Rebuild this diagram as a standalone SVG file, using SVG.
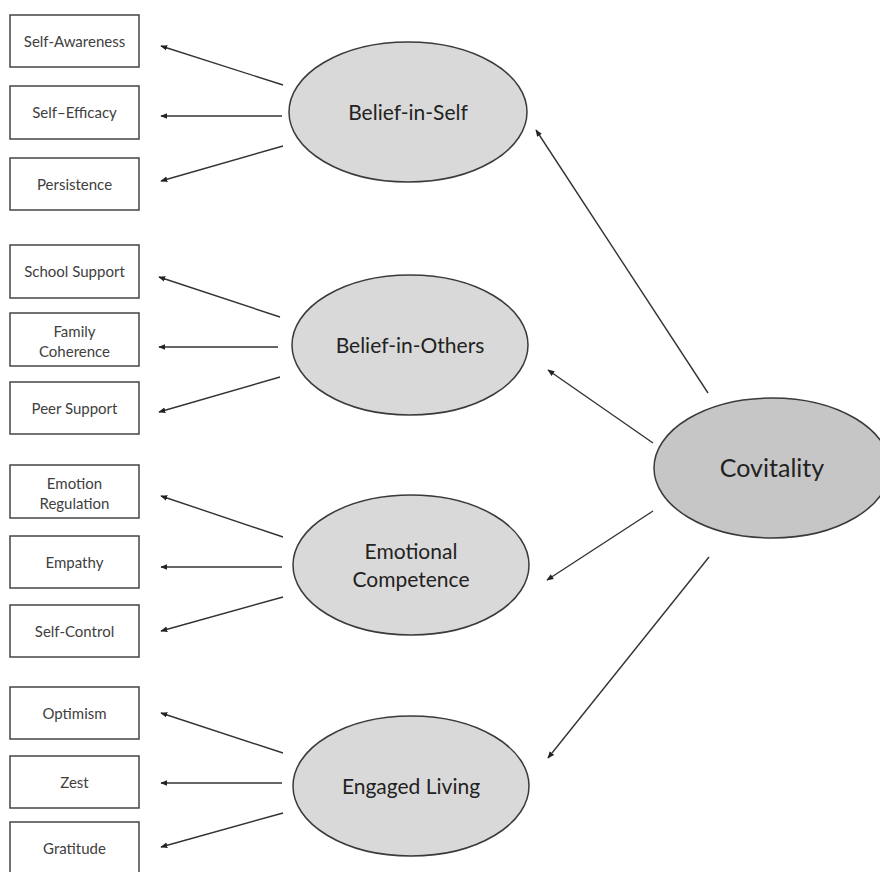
<svg xmlns="http://www.w3.org/2000/svg" width="880" height="872" viewBox="0 0 880 872">
  <style>
    .box { fill: #ffffff; stroke: #444444; stroke-width: 1.5; }
    .latent { fill: #d9d9d9; stroke: #3a3a3a; stroke-width: 1.5; }
    .core { fill: #c6c6c6; stroke: #3a3a3a; stroke-width: 1.5; }
    .lbl { font-family: Lato, "Open Sans", "Liberation Sans", sans-serif; font-size: 15px; fill: #404040; text-anchor: middle; }
    .big { font-family: Lato, "Open Sans", "Liberation Sans", sans-serif; font-size: 21px; fill: #222222; text-anchor: middle; }
    .edge { stroke: #333333; stroke-width: 1.4; fill: none; marker-end: url(#head); }
  </style>
  <defs>
    <marker id="head" viewBox="0 0 10 10" refX="9" refY="5" markerWidth="7" markerHeight="7" markerUnits="userSpaceOnUse" orient="auto">
      <path d="M0,1 L10,5 L0,9 Z" fill="#222222"/>
    </marker>
  </defs>
  <rect width="880" height="872" fill="#ffffff"/>

  <!-- connectors -->
  <g id="connectors">
    <line class="edge" x1="283" y1="85" x2="161" y2="46"/>
    <line class="edge" x1="282" y1="116" x2="161" y2="116"/>
    <line class="edge" x1="283" y1="146" x2="161" y2="181"/>

    <line class="edge" x1="280" y1="317" x2="159" y2="277"/>
    <line class="edge" x1="278" y1="347" x2="159" y2="347"/>
    <line class="edge" x1="280" y1="377" x2="159" y2="412"/>

    <line class="edge" x1="283" y1="537" x2="161" y2="496"/>
    <line class="edge" x1="282" y1="567" x2="161" y2="567"/>
    <line class="edge" x1="283" y1="597" x2="161" y2="631"/>

    <line class="edge" x1="283" y1="753" x2="161" y2="713"/>
    <line class="edge" x1="282" y1="783" x2="161" y2="783"/>
    <line class="edge" x1="283" y1="813" x2="161" y2="847"/>

    <line class="edge" x1="708" y1="393" x2="536" y2="130"/>
    <line class="edge" x1="653" y1="443" x2="548" y2="370"/>
    <line class="edge" x1="653" y1="511" x2="547" y2="580"/>
    <line class="edge" x1="709" y1="557" x2="548" y2="758"/>
  </g>

  <!-- indicator boxes -->
  <g id="self-awareness"><rect class="box" x="10" y="15" width="129" height="52"/><text class="lbl" x="74.5" y="47">Self-Awareness</text></g>
  <g id="self-efficacy"><rect class="box" x="10" y="86" width="129" height="53"/><text class="lbl" x="74.5" y="118">Self–Efficacy</text></g>
  <g id="persistence"><rect class="box" x="10" y="158" width="129" height="52"/><text class="lbl" x="74.5" y="190">Persistence</text></g>

  <g id="school-support"><rect class="box" x="10" y="245" width="129" height="53"/><text class="lbl" x="74.5" y="277">School Support</text></g>
  <g id="family-coherence"><rect class="box" x="10" y="313" width="129" height="53"/><text class="lbl" x="74.5" y="337">Family</text><text class="lbl" x="74.5" y="357">Coherence</text></g>
  <g id="peer-support"><rect class="box" x="10" y="382" width="129" height="52"/><text class="lbl" x="74.5" y="414">Peer Support</text></g>

  <g id="emotion-regulation"><rect class="box" x="10" y="465" width="129" height="53"/><text class="lbl" x="74.5" y="489">Emotion</text><text class="lbl" x="74.5" y="509">Regulation</text></g>
  <g id="empathy"><rect class="box" x="10" y="536" width="129" height="52"/><text class="lbl" x="74.5" y="568">Empathy</text></g>
  <g id="self-control"><rect class="box" x="10" y="605" width="129" height="52"/><text class="lbl" x="74.5" y="637">Self-Control</text></g>

  <g id="optimism"><rect class="box" x="10" y="687" width="129" height="52"/><text class="lbl" x="74.5" y="719">Optimism</text></g>
  <g id="zest"><rect class="box" x="10" y="756" width="129" height="52"/><text class="lbl" x="74.5" y="788">Zest</text></g>
  <g id="gratitude"><rect class="box" x="10" y="822" width="129" height="52"/><text class="lbl" x="74.5" y="854">Gratitude</text></g>

  <!-- latent factors -->
  <g id="belief-in-self"><ellipse class="latent" cx="408" cy="112" rx="119" ry="70"/><text class="big" x="408" y="120">Belief-in-Self</text></g>
  <g id="belief-in-others"><ellipse class="latent" cx="410" cy="345" rx="118" ry="70"/><text class="big" x="410" y="353">Belief-in-Others</text></g>
  <g id="emotional-competence"><ellipse class="latent" cx="411" cy="565" rx="118" ry="70"/><text class="big" x="411" y="559">Emotional</text><text class="big" x="411" y="587">Competence</text></g>
  <g id="engaged-living"><ellipse class="latent" cx="411" cy="786" rx="118" ry="70"/><text class="big" x="411" y="794">Engaged Living</text></g>

  <g id="covitality"><ellipse class="core" cx="772" cy="468" rx="118" ry="70"/><text class="big" x="772" y="477" style="font-size:25px">Covitality</text></g>
</svg>
